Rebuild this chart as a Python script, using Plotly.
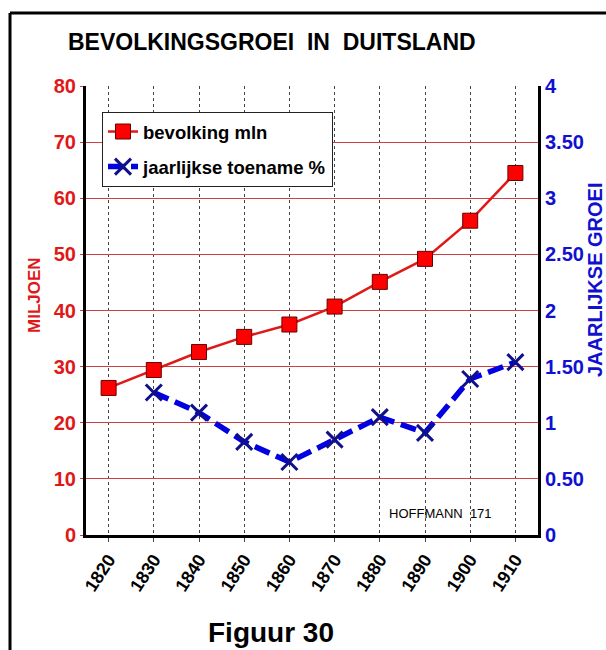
import plotly.graph_objects as go

years = [1820, 1830, 1840, 1850, 1860, 1870, 1880, 1890, 1900, 1910]
bevolking = [26.2, 29.4, 32.6, 35.3, 37.5, 40.7, 45.1, 49.2, 56.0, 64.5]
toename_years = [1830, 1840, 1850, 1860, 1870, 1880, 1890, 1900, 1910]
toename = [1.27, 1.09, 0.83, 0.65, 0.85, 1.05, 0.91, 1.39, 1.54]
left_ticks = [0, 10, 20, 30, 40, 50, 60, 70, 80]
right_tickvals = [0, 0.5, 1, 1.5, 2, 2.5, 3, 3.5, 4]
right_ticktext = ["0", "0.50", "1", "1.50", "2", "2.50", "3", "3.50", "4"]

RED = "#e01818"
BLUE = "#1010d0"
FONT = "Liberation Sans, Arial, sans-serif"

# plot-area geometry in page pixels (used to place annotations in paper coords)
L, R, T, B = 86, 538, 86, 535
W, H = R - L, B - T


def px(x):
    return (x - L) / W


def py(y):
    return (B - y) / H


fig = go.Figure()
fig.add_trace(go.Scatter(
    x=years, y=bevolking, name="bevolking mln", mode="lines+markers",
    line=dict(color=RED, width=2.5),
    marker=dict(symbol="square", size=15, color="#ff0000",
                line=dict(color="#6a0000", width=1)),
    yaxis="y", legendgroup="a",
))
fig.add_trace(go.Scatter(
    x=toename_years, y=toename, name="jaarlijkse toename %", mode="lines+markers",
    line=dict(color="#0000e0", width=5.5, dash="16px,7px"),
    marker=dict(symbol="x-thin", size=16, color="#10109a",
                line=dict(color="#10108a", width=3)),
    yaxis="y2", legendgroup="b",
))

fig.update_layout(
    width=606, height=650,
    margin=dict(l=L, r=606 - R, t=T, b=650 - B, autoexpand=False),
    paper_bgcolor="white", plot_bgcolor="white",
    font=dict(family=FONT, color="black"),
    showlegend=True,
    legend=dict(
        x=px(102), y=py(112), xanchor="left", yanchor="top",
        bgcolor="white", bordercolor="#222222", borderwidth=1,
        font=dict(size=18.5, color="black", family=FONT, weight="bold"),
        tracegroupgap=8, itemwidth=30, traceorder="grouped",
    ),
    xaxis=dict(
        range=[1815, 1915], tickvals=years, ticktext=[str(y) for y in years],
        tickangle=-57, tickfont=dict(size=18, color="black", family=FONT, weight="bold"),
        showgrid=True, gridcolor="#444444", griddash="dot", gridwidth=1,
        showline=True, linecolor="black", linewidth=3,
        ticks="outside", ticklen=4, tickcolor="#444444", tickwidth=1,
        zeroline=False, fixedrange=True, automargin=False,
    ),
    yaxis=dict(
        range=[0, 80], tickvals=left_ticks,
        tickfont=dict(size=20, color=RED, family=FONT, weight="bold"),
        showgrid=True, gridcolor="#d04040", gridwidth=1,
        showline=True, linecolor="black", linewidth=3,
        ticks="outside", ticklen=3, tickcolor="#d04040",
        zeroline=False, automargin=False, fixedrange=True,
    ),
    yaxis2=dict(
        range=[0, 4], tickvals=right_tickvals, ticktext=right_ticktext,
        overlaying="y", side="right",
        tickfont=dict(size=20, color=BLUE, family=FONT, weight="bold"),
        showgrid=False, showline=True, linecolor="black", linewidth=3,
        ticks="", zeroline=False, automargin=False, fixedrange=True,
    ),
    annotations=[
        dict(text="<b>BEVOLKINGSGROEI&nbsp; IN&nbsp; DUITSLAND</b>", xref="paper", yref="paper",
             x=px(272), y=py(42), xanchor="center", yanchor="middle",
             showarrow=False, font=dict(size=23, color="black", family=FONT)),
        dict(text="<b>Figuur 30</b>", xref="paper", yref="paper",
             x=px(271), y=py(632), xanchor="center", yanchor="middle",
             showarrow=False, font=dict(size=28, color="black", family=FONT)),
        dict(text="HOFFMANN&nbsp; 171", xref="paper", yref="paper",
             x=px(440), y=py(513), xanchor="center", yanchor="middle",
             showarrow=False, font=dict(size=13, color="black", family=FONT)),
        dict(text="<b>MILJOEN</b>", xref="paper", yref="paper",
             x=px(34), y=py(295), xanchor="center", yanchor="middle", textangle=-90,
             showarrow=False, font=dict(size=17, color=RED, family=FONT)),
        dict(text="<b>JAARLIJKSE GROEI</b>", xref="paper", yref="paper",
             x=px(595), y=py(280), xanchor="center", yanchor="middle", textangle=-90,
             showarrow=False, font=dict(size=20, color=BLUE, family=FONT)),
    ],
    shapes=[
        dict(type="line", xref="paper", yref="paper",
             x0=px(10), x1=px(612), y0=py(13), y1=py(13),
             line=dict(color="black", width=3)),
        dict(type="line", xref="paper", yref="paper",
             x0=px(10), x1=px(10), y0=py(13), y1=py(656),
             line=dict(color="black", width=3)),
    ],
)

fig.write_html(
    "out.html",
    config=dict(displayModeBar=False),
    post_script="document.body.style.margin='0px';document.body.style.overflow='hidden';",
)
